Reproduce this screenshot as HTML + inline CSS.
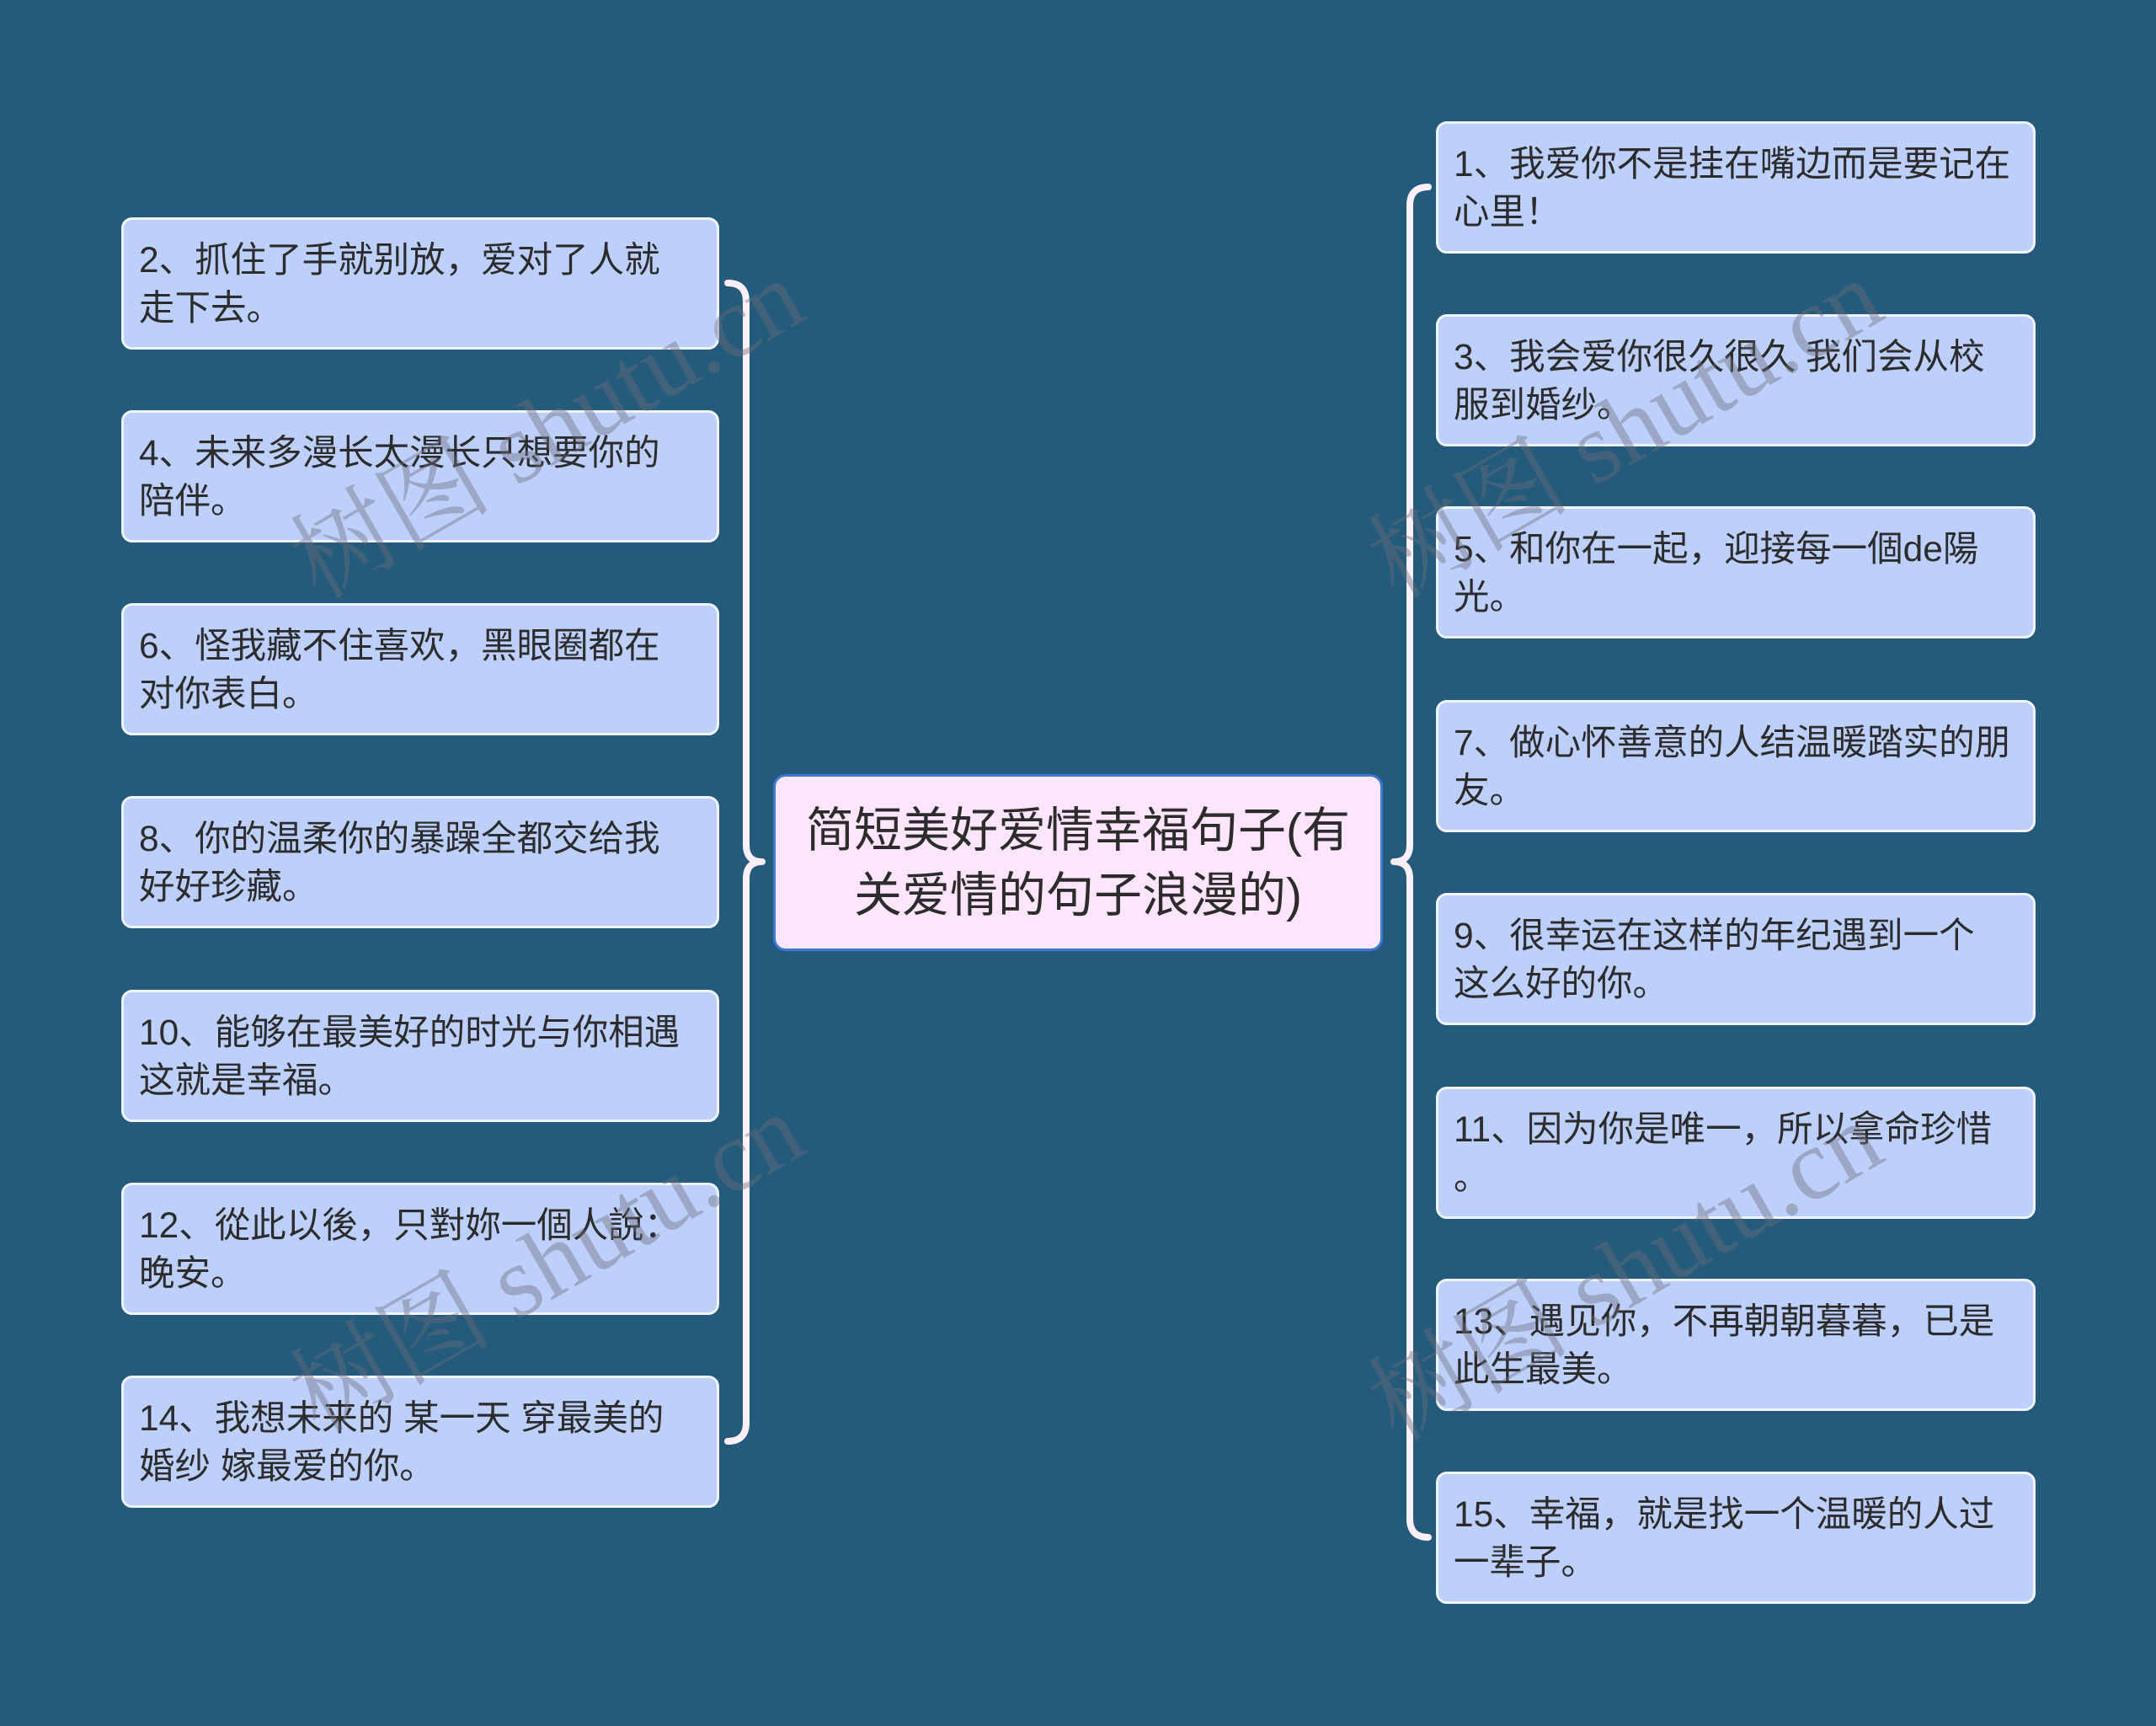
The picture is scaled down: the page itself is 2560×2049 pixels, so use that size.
<!DOCTYPE html>
<html>
<head>
<meta charset="utf-8">
<style>
  html, body { margin:0; padding:0; }
  body {
    width:2560px; height:2049px; overflow:hidden; position:relative;
    background:#245a7b;
    font-family:"Liberation Sans","Noto Sans CJK SC",sans-serif;
  }
  .node {
    position:absolute; box-sizing:border-box;
    height:157px;
    background:#bdd0fb;
    border:3px solid #eef3ff;
    border-radius:13px;
    color:#2c2c2c;
    font-size:42.5px;
    line-height:57px;
    padding:20px 0 0 18px;
    white-space:nowrap;
  }
  .l { left:144px; width:710px; }
  .r { left:1705px; width:712px; }
  .center {
    position:absolute; box-sizing:border-box;
    left:918px; top:919px; width:724px; height:210px;
    background:#ffe5fb;
    border:3px solid #3c7ad4;
    border-radius:15px;
    color:#2c2c2c;
    font-size:57px; line-height:77px;
    text-align:center;
    padding-top:26px;
    white-space:nowrap;
  }
  svg.lines { position:absolute; left:0; top:0; }
  .wm {
    position:absolute; width:900px; height:160px; line-height:160px;
    margin-left:-450px; margin-top:-80px;
    text-align:center; white-space:nowrap;
    font-family:"Liberation Serif","Noto Serif CJK SC",serif;
    font-size:120px;
    color:rgba(110,110,122,0.42);
    transform:rotate(-30deg);
    z-index:5;
  }
</style>
</head>
<body>
<svg class="lines" width="2560" height="2049" viewBox="0 0 2560 2049">
  <g fill="none" stroke="#fbeffa" stroke-width="8" stroke-linecap="round" stroke-linejoin="round">
    <path d="M 864 336 Q 886 336 886 358 L 886 1003 Q 886 1023 905 1023 Q 886 1023 886 1043 L 886 1689 Q 886 1711 864 1711"/>
    <path d="M 1696 222 Q 1674 222 1674 244 L 1674 1003 Q 1674 1023 1655 1023 Q 1674 1023 1674 1043 L 1674 1803 Q 1674 1825 1696 1825"/>
  </g>
</svg>

<div class="center">简短美好爱情幸福句子(有<br>关爱情的句子浪漫的)</div>

<div class="node l" style="top:258px;">2、抓住了手就别放，爱对了人就<br>走下去。</div>
<div class="node l" style="top:487px;">4、未来多漫长太漫长只想要你的<br>陪伴。</div>
<div class="node l" style="top:716px;">6、怪我藏不住喜欢，黑眼圈都在<br>对你表白。</div>
<div class="node l" style="top:945px;">8、你的温柔你的暴躁全都交给我<br>好好珍藏。</div>
<div class="node l" style="top:1175px;">10、能够在最美好的时光与你相遇<br>这就是幸福。</div>
<div class="node l" style="top:1404px;">12、從此以後，只對妳一個人說：<br>晚安。</div>
<div class="node l" style="top:1633px;">14、我想未来的 某一天 穿最美的<br>婚纱 嫁最爱的你。</div>

<div class="node r" style="top:144px;">1、我爱你不是挂在嘴边而是要记在<br>心里！</div>
<div class="node r" style="top:373px;">3、我会爱你很久很久 我们会从校<br>服到婚纱。</div>
<div class="node r" style="top:601px;">5、和你在一起，迎接每一個de陽<br>光。</div>
<div class="node r" style="top:831px;">7、做心怀善意的人结温暖踏实的朋<br>友。</div>
<div class="node r" style="top:1060px;">9、很幸运在这样的年纪遇到一个<br>这么好的你。</div>
<div class="node r" style="top:1290px;">11、因为你是唯一，所以拿命珍惜<br>。</div>
<div class="node r" style="top:1518px;">13、遇见你，不再朝朝暮暮，已是<br>此生最美。</div>
<div class="node r" style="top:1747px;">15、幸福，就是找一个温暖的人过<br>一辈子。</div>

<div class="wm" style="left:650px; top:510px;">树图 shutu.cn</div>
<div class="wm" style="left:650px; top:1500px;">树图 shutu.cn</div>
<div class="wm" style="left:1930px; top:510px;">树图 shutu.cn</div>
<div class="wm" style="left:1930px; top:1510px;">树图 shutu.cn</div>
</body>
</html>
